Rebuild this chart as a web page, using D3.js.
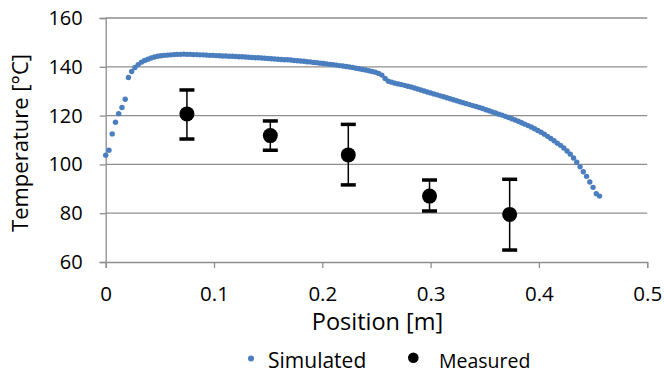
<!DOCTYPE html>
<html>
<head>
<meta charset="utf-8">
<script src="https://cdn.jsdelivr.net/npm/d3@7"></script>
<style>
  body { margin: 0; background: #fff; }
  text { font-family: "Open Sans", sans-serif; fill: #000; }
</style>
</head>
<body>
<svg width="664" height="376"></svg>
<script>
// simulated temperature profile (dense dotted series)
const simPos = [
  0.000, 0.003, 0.006, 0.009, 0.012, 0.015, 0.018, 0.021, 0.024, 0.027,
  0.030, 0.033, 0.036, 0.039, 0.042, 0.045, 0.048, 0.051, 0.054, 0.057,
  0.060, 0.063, 0.066, 0.069, 0.072, 0.075, 0.078, 0.081, 0.084, 0.087,
  0.090, 0.093, 0.096, 0.099, 0.102, 0.105, 0.108, 0.111, 0.114, 0.117,
  0.120, 0.123, 0.126, 0.129, 0.132, 0.135, 0.138, 0.141, 0.144, 0.147,
  0.150, 0.153, 0.156, 0.159, 0.162, 0.165, 0.168, 0.171, 0.174, 0.177,
  0.180, 0.183, 0.186, 0.189, 0.192, 0.195, 0.198, 0.201, 0.204, 0.207,
  0.210, 0.213, 0.216, 0.219, 0.222, 0.225, 0.228, 0.231, 0.234, 0.237,
  0.240, 0.243, 0.246, 0.249, 0.252, 0.255, 0.258, 0.261, 0.264, 0.267,
  0.270, 0.273, 0.276, 0.279, 0.282, 0.285, 0.288, 0.291, 0.294, 0.297,
  0.300, 0.303, 0.306, 0.309, 0.312, 0.315, 0.318, 0.321, 0.324, 0.327,
  0.330, 0.333, 0.336, 0.339, 0.342, 0.345, 0.348, 0.351, 0.354, 0.357,
  0.360, 0.363, 0.366, 0.369, 0.372, 0.375, 0.378, 0.381, 0.384, 0.387,
  0.390, 0.393, 0.396, 0.399, 0.402, 0.405, 0.408, 0.411, 0.414, 0.417,
  0.420, 0.423, 0.426, 0.429, 0.432, 0.435, 0.438, 0.441, 0.444, 0.447,
  0.450, 0.453, 0.456
];
const simTemp = [
  103.8, 105.8, 112.5, 117.3, 120.8, 123.3, 126.7, 135.6, 138.1, 139.7,
  140.9, 141.9, 142.6, 143.1, 143.6, 144.0, 144.3, 144.5, 144.7, 144.8,
  144.9, 145.0, 145.1, 145.1, 145.2, 145.1, 145.1, 145.0, 145.0, 144.9,
  144.9, 144.8, 144.7, 144.7, 144.6, 144.5, 144.4, 144.4, 144.3, 144.3,
  144.2, 144.1, 144.1, 144.0, 143.9, 143.8, 143.7, 143.7, 143.6, 143.5,
  143.4, 143.3, 143.2, 143.1, 143.0, 142.9, 142.9, 142.8, 142.6, 142.5,
  142.4, 142.3, 142.1, 142.0, 141.8, 141.7, 141.5, 141.4, 141.2, 141.0,
  140.9, 140.7, 140.5, 140.3, 140.1, 139.9, 139.7, 139.4, 139.2, 138.9,
  138.7, 138.4, 138.1, 137.8, 137.3, 136.6, 135.2, 134.1, 133.7, 133.3,
  133.0, 132.7, 132.4, 132.0, 131.7, 131.3, 130.9, 130.5, 130.1, 129.7,
  129.3, 128.9, 128.5, 128.1, 127.7, 127.3, 126.9, 126.5, 126.1, 125.7,
  125.3, 124.9, 124.5, 124.1, 123.7, 123.3, 122.9, 122.4, 122.0, 121.5,
  121.1, 120.6, 120.2, 119.7, 119.2, 118.7, 118.2, 117.7, 117.1, 116.5,
  115.9, 115.3, 114.6, 113.9, 113.2, 112.4, 111.5, 110.6, 109.7, 108.7,
  107.8, 106.7, 105.5, 104.2, 102.6, 100.9, 99.0, 97.0, 95.1, 92.8,
  90.6, 88.0, 87.0
];

// measured points with error bars
const measPos = [0.075, 0.152, 0.224, 0.299, 0.373];
const measTemp = [120.7, 111.8, 103.9, 87.0, 79.5];
const measHigh = [130.5, 117.8, 116.4, 93.6, 93.9];
const measLow = [110.4, 105.8, 91.6, 80.9, 64.9];

const xTicks = [0, 0.1, 0.2, 0.3, 0.4, 0.5];
const yTicks = [60, 80, 100, 120, 140, 160];
const seriesNames = ["Simulated", "Measured"];

const svg = d3.select("svg");
const gridColor = "#8e8e8e";
const blue = "#4a7ebf";

const x = d3.scaleLinear().domain([0, 0.5]).range([105.7, 647.2]);
const y = d3.scaleLinear().domain([60, 160]).range([262, 18]);

// horizontal gridlines
svg.append("g")
  .selectAll("line")
  .data(yTicks.filter(d => d > 60))
  .enter()
  .append("line")
  .attr("x1", x(0))
  .attr("x2", x(0.5))
  .attr("y1", d => y(d))
  .attr("y2", d => y(d))
  .style("stroke", gridColor)
  .style("stroke-width", 1.3);

// x axis
const xAxis = svg.append("g")
  .attr("transform", `translate(0,${y(60)})`)
  .call(d3.axisBottom(x).tickValues(xTicks).tickSize(6).tickPadding(18)
    .tickFormat(d => d === 0 ? "0" : d3.format(".1f")(d)));
xAxis.select(".domain").style("stroke", gridColor).style("stroke-width", 1.3);
xAxis.selectAll(".tick line").style("stroke", gridColor).style("stroke-width", 1.3);
xAxis.selectAll("text").style("font-size", "20.5px").attr("fill", "#000");

// y axis
const yAxis = svg.append("g")
  .attr("transform", `translate(${x(0)},0)`)
  .call(d3.axisLeft(y).tickValues(yTicks).tickSize(6).tickPadding(17));
yAxis.select(".domain").style("stroke", gridColor).style("stroke-width", 1.3);
yAxis.selectAll(".tick line").style("stroke", gridColor).style("stroke-width", 1.3);
yAxis.selectAll("text").style("font-size", "20px").attr("fill", "#000");

// simulated dots
svg.append("g")
  .selectAll("circle")
  .data(simPos.map((p, i) => ({ p, t: simTemp[i] })))
  .enter()
  .append("circle")
  .attr("cx", d => x(d.p))
  .attr("cy", d => y(d.t))
  .attr("r", 2.7)
  .attr("fill", blue);

// measured error bars
const meas = measPos.map((p, i) => ({ p, t: measTemp[i], hi: measHigh[i], lo: measLow[i] }));
const eb = svg.append("g");
eb.selectAll("line.stem")
  .data(meas)
  .enter()
  .append("line")
  .attr("x1", d => x(d.p))
  .attr("x2", d => x(d.p))
  .attr("y1", d => y(d.hi))
  .attr("y2", d => y(d.lo))
  .style("stroke", "#000")
  .style("stroke-width", 1.5);
eb.selectAll("line.cap")
  .data(meas.flatMap(d => [{ p: d.p, v: d.hi }, { p: d.p, v: d.lo }]))
  .enter()
  .append("line")
  .attr("x1", d => x(d.p) - 7.5)
  .attr("x2", d => x(d.p) + 7.5)
  .attr("y1", d => y(d.v))
  .attr("y2", d => y(d.v))
  .style("stroke", "#000")
  .style("stroke-width", 3.5);
eb.selectAll("circle")
  .data(meas)
  .enter()
  .append("circle")
  .attr("cx", d => x(d.p))
  .attr("cy", d => y(d.t))
  .attr("r", 7.5)
  .attr("fill", "#000");

// axis titles
svg.append("text")
  .attr("x", 377.5)
  .attr("y", 330)
  .attr("text-anchor", "middle")
  .style("font-size", "23.5px")
  .text("Position [m]");

svg.append("text")
  .attr("transform", "translate(28,143) rotate(-90)")
  .attr("text-anchor", "middle")
  .style("font-size", "22px")
  .text("Temperature [°C]");

// legend
const legend = svg.append("g");
legend.append("circle").attr("cx", 251).attr("cy", 358.5).attr("r", 3).attr("fill", blue);
legend.append("text").attr("x", 268).attr("y", 368).style("font-size", "21px").text(seriesNames[0]);
legend.append("circle").attr("cx", 413.3).attr("cy", 357.7).attr("r", 5.3).attr("fill", "#000");
legend.append("text").attr("x", 439).attr("y", 368).style("font-size", "19.5px").text(seriesNames[1]);
</script>
</body>
</html>
